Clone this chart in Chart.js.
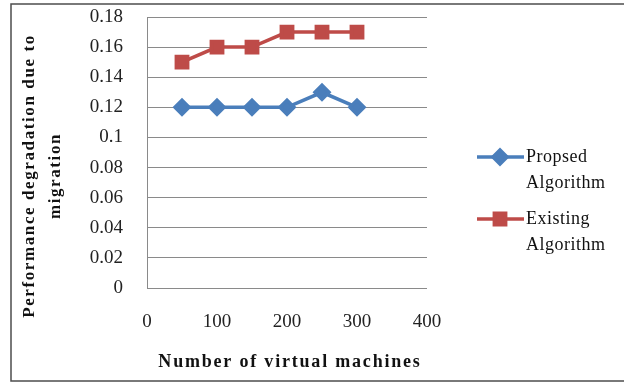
<!DOCTYPE html>
<html>
<head>
<meta charset="utf-8">
<script src="https://cdn.jsdelivr.net/npm/chart.js@4"></script>
<style>
  html, body { margin: 0; padding: 0; background: #fff; }
  #wrap { width: 624px; height: 384px; position: relative; }
</style>
</head>
<body>
<div id="wrap"><canvas id="c" width="624" height="384"></canvas></div>
<script>
// Number of virtual machines (x values)
const vmCounts = [50, 100, 150, 200, 250, 300];
// Performance degradation due to migration
const proposedValues = [0.12, 0.12, 0.12, 0.12, 0.13, 0.12];
const existingValues = [0.15, 0.16, 0.16, 0.17, 0.17, 0.17];
const seriesNames = [['Propsed', 'Algorithm'], ['Existing', 'Algorithm']];
const xTickLabels = ['0', '100', '200', '300', '400'];
const yTickLabels = ['0', '0.02', '0.04', '0.06', '0.08', '0.1', '0.12', '0.14', '0.16', '0.18'];
const xTitle = 'Number of virtual machines';
const yTitle = ['Performance degradation due to', 'migration'];

const SERIF = '"Liberation Serif", "DejaVu Serif", serif';
const BLUE = '#4a7ebb';
const RED = '#be4b48';

// Outer frame, axis titles and the two-line legend
const decorations = {
  id: 'decorations',
  beforeDraw(chart) {
    const ctx = chart.ctx;
    ctx.save();
    ctx.fillStyle = '#fff';
    ctx.fillRect(0, 0, chart.width, chart.height);
    ctx.restore();
  },
  afterDraw(chart) {
    const ctx = chart.ctx;
    const area = chart.chartArea;
    ctx.save();
    // frame
    ctx.strokeStyle = '#4d4d4d';
    ctx.lineWidth = 1.5;
    ctx.strokeRect(11, 4, 700, 377);

    // x axis title
    ctx.fillStyle = '#111';
    ctx.font = 'bold 18px ' + SERIF;
    ctx.letterSpacing = '1.8px';
    ctx.textAlign = 'center';
    ctx.textBaseline = 'middle';
    ctx.fillText(xTitle, (area.left + area.right) / 2 + 3, 362);

    // y axis title (rotated, two lines)
    ctx.save();
    ctx.translate(30, 176);
    ctx.rotate(-Math.PI / 2);
    ctx.font = 'bold 17px ' + SERIF;
    ctx.letterSpacing = '1.6px';
    ctx.fillText(yTitle[0], 0, 0);
    ctx.fillText(yTitle[1], 0, 26);
    ctx.restore();

    // legend
    ctx.letterSpacing = '0.5px';
    ctx.font = '18px ' + SERIF;
    ctx.textAlign = 'left';
    const rows = [157, 219];
    chart.data.datasets.forEach((ds, i) => {
      const y = rows[i];
      ctx.strokeStyle = ds.borderColor;
      ctx.lineWidth = ds.borderWidth;
      ctx.beginPath();
      ctx.moveTo(477, y);
      ctx.lineTo(524, y);
      ctx.stroke();
      ctx.fillStyle = ds.pointBackgroundColor;
      ctx.strokeStyle = ds.pointBorderColor;
      Chart.helpers.drawPoint(ctx, {
        pointStyle: ds.pointStyle, radius: ds.pointRadius, rotation: 0, borderWidth: 1
      }, 500, y);
      ctx.fillStyle = '#111';
      seriesNames[i].forEach((line, j) => ctx.fillText(line, 526, y + j * 26));
    });
    ctx.restore();
  }
};

new Chart(document.getElementById('c'), {
  type: 'line',
  data: {
    datasets: [
      {
        label: seriesNames[0].join(' '),
        data: vmCounts.map((x, i) => ({ x, y: proposedValues[i] })),
        borderColor: BLUE,
        backgroundColor: BLUE,
        pointBackgroundColor: BLUE,
        pointBorderColor: BLUE,
        borderWidth: 3.5,
        pointStyle: 'rectRot',
        pointRadius: 7,
        pointHoverRadius: 7,
        tension: 0
      },
      {
        label: seriesNames[1].join(' '),
        data: vmCounts.map((x, i) => ({ x, y: existingValues[i] })),
        borderColor: RED,
        backgroundColor: RED,
        pointBackgroundColor: RED,
        pointBorderColor: RED,
        borderWidth: 3.5,
        pointStyle: 'rect',
        pointRadius: 8,
        pointHoverRadius: 8,
        tension: 0
      }
    ]
  },
  options: {
    responsive: false,
    animation: false,
    events: [],
    layout: { padding: { left: 12, right: 197, top: 17, bottom: 0 } },
    plugins: {
      legend: { display: false },
      tooltip: { enabled: false }
    },
    scales: {
      x: {
        type: 'linear',
        min: 0,
        max: 400,
        afterFit(scale) { scale.height = 96; },
        ticks: {
          stepSize: 100,
          padding: 23,
          color: '#222',
          font: { family: SERIF, size: 19 },
          callback: (v, i) => xTickLabels[i]
        },
        grid: { display: false, drawTicks: false },
        border: { display: false }
      },
      y: {
        min: 0,
        max: 0.18,
        afterFit(scale) {
          scale.width = 135;
          scale.paddingTop = 0;
          scale.paddingBottom = 0;
        },
        ticks: {
          stepSize: 0.02,
          padding: 24,
          color: '#222',
          font: { family: SERIF, size: 19 },
          callback: (v, i) => yTickLabels[i]
        },
        grid: { color: '#8a8a8a', lineWidth: 1, drawTicks: false },
        border: { display: true, color: '#8a8a8a', width: 1 }
      }
    }
  },
  plugins: [decorations]
});
</script>
</body>
</html>
